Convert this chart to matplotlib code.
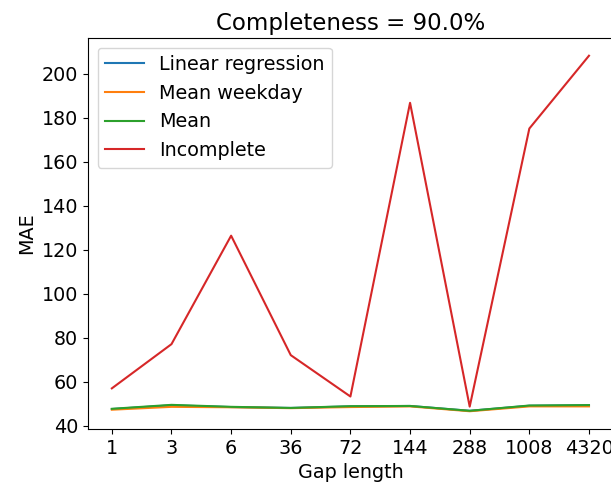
import matplotlib
matplotlib.use("Agg")
from matplotlib import pyplot as plt

gap_labels = ["1", "3", "6", "36", "72", "144", "288", "1008", "4320"]
linear_regression = [47.6, 49.3, 48.5, 48.1, 48.8, 49.0, 46.8, 49.1, 49.3]
mean_weekday = [47.3, 48.6, 48.4, 48.0, 48.5, 48.8, 46.6, 48.8, 48.8]
mean = [47.7, 49.5, 48.6, 48.1, 48.9, 49.0, 46.8, 49.2, 49.4]
incomplete = [57.0, 77.1, 126.4, 72.1, 53.3, 186.8, 48.7, 175.1, 208.2]

plt.rcParams['font.size'] = 13.8

fig = plt.figure(figsize=(6.11, 4.84), dpi=100)
ax = fig.add_axes([0.144, 0.1136, 0.859, 0.808])

x = range(len(gap_labels))
ax.plot(x, linear_regression, label="Linear regression")
ax.plot(x, mean_weekday, label="Mean weekday")
ax.plot(x, mean, label="Mean")
ax.plot(x, incomplete, label="Incomplete")

ax.set_xticks(list(x))
ax.set_xticklabels(gap_labels)
ax.set_xlabel("Gap length")
ax.set_ylabel("MAE")
ax.set_title("Completeness = 90.0%", fontsize=16.5)
ax.legend(loc="upper left")

fig.savefig("out.png", dpi=100)
